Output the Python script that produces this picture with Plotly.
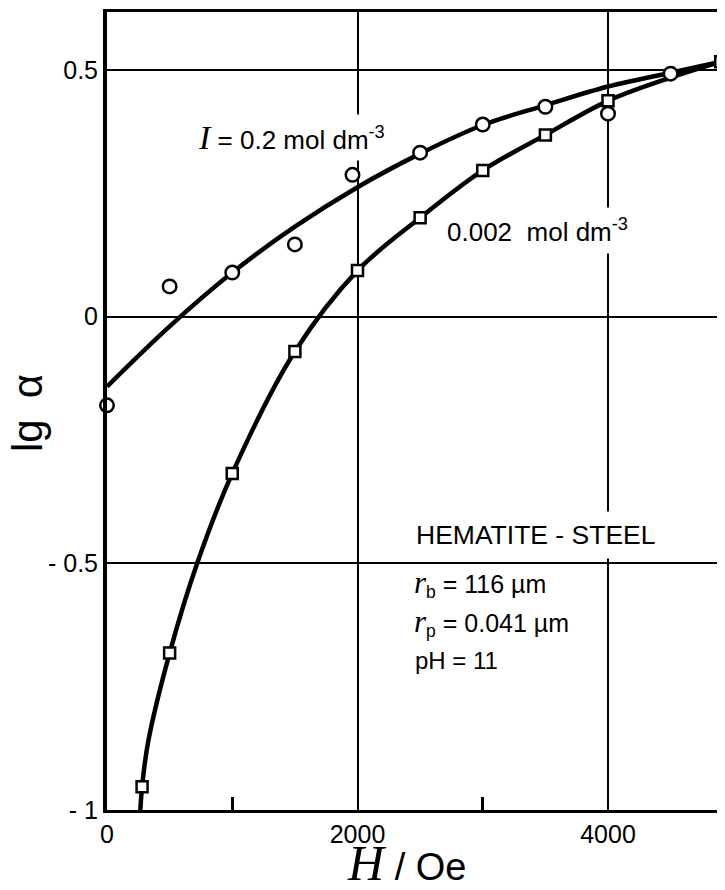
import plotly.graph_objects as go

# Measured points, I = 0.2 mol dm^-3 (circles)
h_high = [0, 500, 1000, 1500, 1960, 2500, 3000, 3500, 4000, 4500]
lg_high = [-0.18, 0.061, 0.089, 0.146, 0.287, 0.332, 0.389, 0.425, 0.411, 0.492]

# Measured points, 0.002 mol dm^-3 (squares)
h_low = [280, 500, 1000, 1500, 2000, 2500, 3000, 3500, 4000, 4900]
lg_low = [-0.953, -0.682, -0.318, -0.071, 0.093, 0.200, 0.296, 0.368, 0.437, 0.516]

# Drawn fit curve, I = 0.2 mol dm^-3
fit_high_h = [0, 500, 1000, 1500, 2000, 2500, 3000, 3500, 4000, 4500, 4900]
fit_high_lg = [-0.142, -0.02, 0.089, 0.182, 0.262, 0.330, 0.388, 0.428, 0.466, 0.494, 0.516]

# Drawn fit curve, 0.002 mol dm^-3
fit_low_h = [262, 280, 330, 500, 720, 1000, 1500, 2000, 2500, 3000, 3500, 4000, 4500, 4900]
fit_low_lg = [-1.02, -0.953, -0.86, -0.682, -0.50, -0.318, -0.071, 0.093, 0.200, 0.296, 0.368, 0.437, 0.484, 0.516]

x_tickvals = [0, 2000, 4000]
x_ticktext = ["0", "2000", "4000"]
x_minor = [1000, 3000]
y_tickvals = [-1, -0.5, 0, 0.5]
y_ticktext = ["- 1", "- 0.5", "0", "0.5"]

FONT = "Liberation Sans, Arial, sans-serif"
SERIF = "Liberation Serif, Times New Roman, serif"

OFF = 8  # page offset of the plot in the screenshot
W, H = 717, 874
L, T = 99, 4
B = H - (810 - OFF)
PW = W - L
PH = H - T - B
X_MAX = PW / 0.12525
Y_MIN = -1.0
Y_MAX = Y_MIN + PH / 493.5


def dx(px):
    """screen pixel -> data x"""
    return (px - OFF - L) / PW * X_MAX


def dy(py):
    """screen pixel -> data y"""
    return Y_MAX - (py - OFF - T) / PH * (Y_MAX - Y_MIN)


def px_paper(px):
    return (px - OFF - L) / PW


def py_paper(py):
    return (H - B - (py - OFF)) / PH


fig = go.Figure()
fig.add_trace(go.Scatter(x=fit_high_h, y=fit_high_lg, mode="lines",
                         line=dict(color="black", width=4.5, shape="spline", smoothing=1.0),
                         hoverinfo="skip"))
fig.add_trace(go.Scatter(x=fit_low_h, y=fit_low_lg, mode="lines",
                         line=dict(color="black", width=4.5, shape="spline", smoothing=1.0),
                         hoverinfo="skip"))
fig.add_trace(go.Scatter(x=h_high, y=lg_high, mode="markers", cliponaxis=False,
                         marker=dict(symbol="circle", size=13.5, color="white",
                                     line=dict(color="black", width=2.5))))
fig.add_trace(go.Scatter(x=h_low, y=lg_low, mode="markers", cliponaxis=False,
                         marker=dict(symbol="square", size=11, color="white",
                                     line=dict(color="black", width=2.5))))


def note(px, py, text, size, pad=1, bg=None):
    fig.add_annotation(x=dx(px - pad), y=dy(py), xref="x", yref="y",
                       xanchor="left", yanchor="middle", showarrow=False,
                       text=text, borderpad=pad,
                       bgcolor=bg if bg else "rgba(0,0,0,0)",
                       font=dict(family=FONT, size=size, color="black"))


note(197, 137, f'<span style="font-family:{SERIF};font-size:34px"><i>I</i></span> = 0.2 mol dm<sup>-3</sup>',
     26, pad=4, bg="white")
note(446, 230, "0.002  mol dm<sup>-3</sup>", 26, pad=6, bg="white")
note(415, 535, "HEMATITE - STEEL", 26.5, pad=8, bg="white")
note(413, 583, f'<span style="font-family:{SERIF};font-size:31px"><i>r</i></span><sub>b</sub> = 116 µm', 25)
note(413, 622, f'<span style="font-family:{SERIF};font-size:31px"><i>r</i></span><sub>p</sub> = 0.041 µm', 25)
note(414, 660, "pH = 11", 24)

# axis titles
fig.add_annotation(x=px_paper(28), y=py_paper(413), xref="paper", yref="paper",
                   xanchor="center", yanchor="middle",
                   text="lg\u2002α", textangle=-90, showarrow=False,
                   font=dict(family=FONT, size=42, color="black"))
fig.add_annotation(x=px_paper(406), y=py_paper(863), xref="paper", yref="paper",
                   xanchor="center", yanchor="middle",
                   text=f'<span style="font-family:{SERIF};font-size:50px"><i>H</i></span> / Oe',
                   showarrow=False, font=dict(family=FONT, size=38, color="black"))

fig.update_layout(
    width=W, height=H,
    margin=dict(l=L, r=0, t=T, b=B),
    paper_bgcolor="white", plot_bgcolor="white",
    showlegend=False,
    font=dict(family=FONT, size=25, color="black"),
    xaxis=dict(range=[0, X_MAX], tickvals=x_tickvals, ticktext=x_ticktext,
               showgrid=True, gridcolor="black", gridwidth=1.5,
               showline=True, linecolor="black", linewidth=3, mirror=True,
               ticks="", zeroline=False,
               minor=dict(tickvals=x_minor, ticks="inside", ticklen=13, tickwidth=2.5,
                          tickcolor="black", showgrid=False),
               tickfont=dict(family=FONT, size=25)),
    yaxis=dict(range=[Y_MIN, Y_MAX], tickvals=y_tickvals, ticktext=y_ticktext,
               showgrid=True, gridcolor="black", gridwidth=1.5,
               showline=True, linecolor="black", linewidth=4,
               ticks="", zeroline=False, ticklabelstandoff=0,
               tickfont=dict(family=FONT, size=25)),
)

fig.write_html("out.html")
